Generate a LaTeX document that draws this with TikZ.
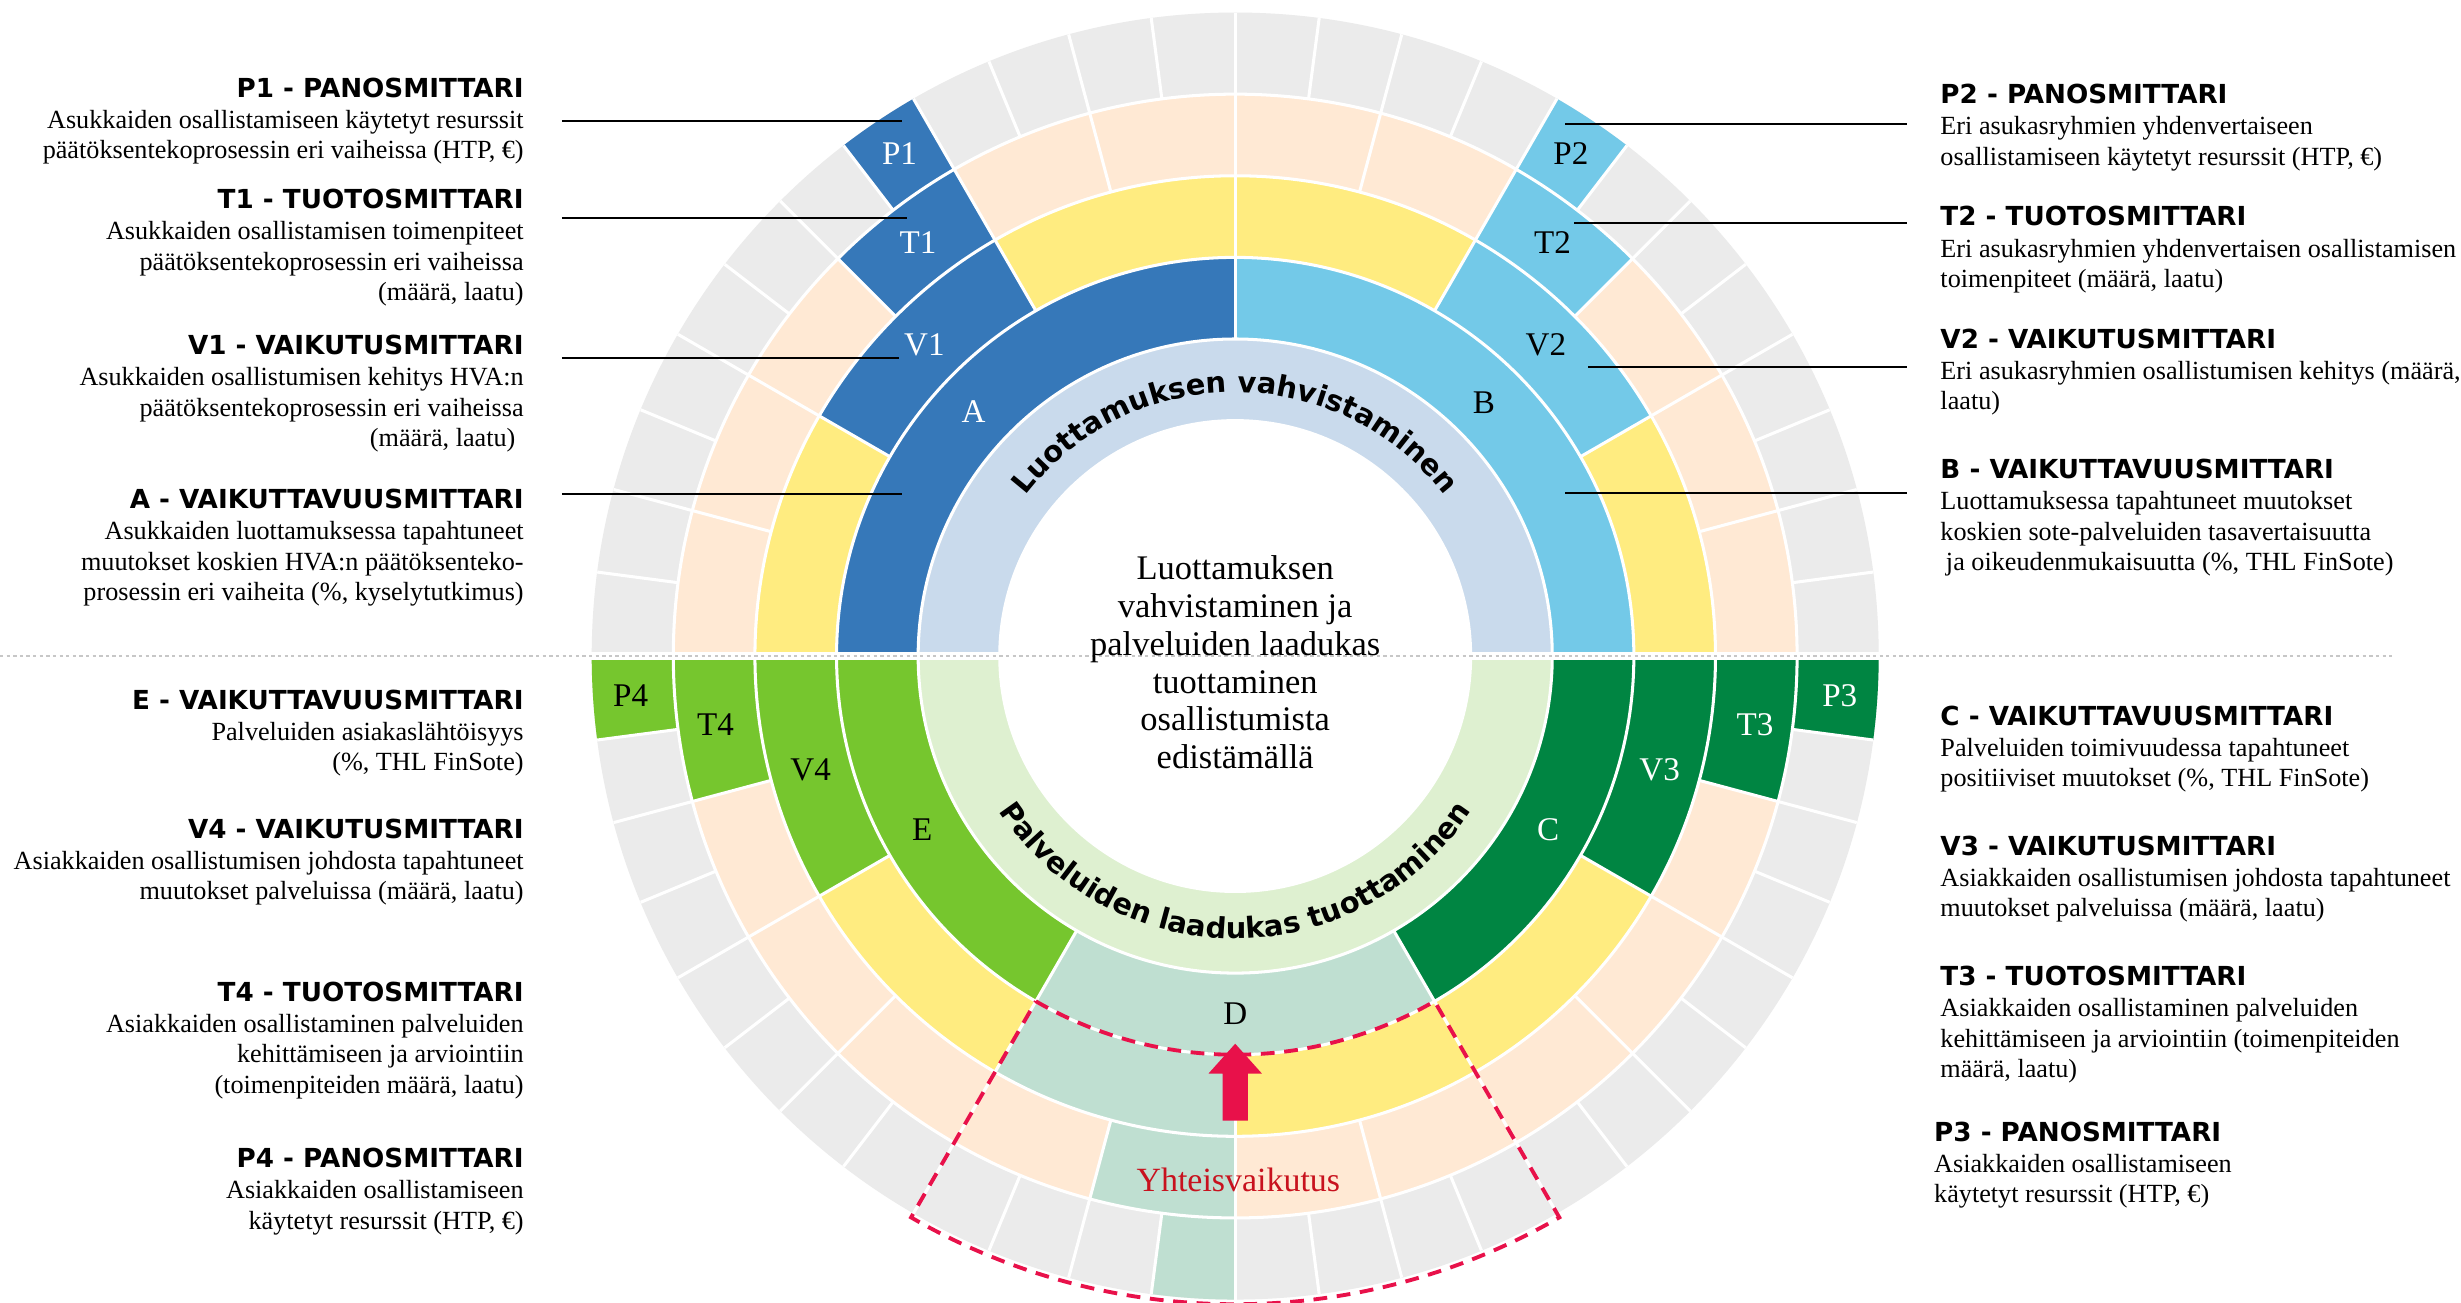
\documentclass[tikz,border=0pt]{standalone}
\usepackage{fontspec}
\setmainfont{Liberation Serif}
\newfontfamily\hdrsans{DejaVu Sans}
\usepackage{tikz}
\usetikzlibrary{calc}
\usetikzlibrary{decorations.text}

\definecolor{blueA}{RGB}{54,120,185}
\definecolor{blueB}{RGB}{115,201,232}
\definecolor{ringB}{RGB}{201,218,236}
\definecolor{ringG}{RGB}{222,240,208}
\definecolor{greenE}{RGB}{118,198,46}
\definecolor{greenC}{RGB}{0,133,66}
\definecolor{tealD}{RGB}{191,223,209}
\definecolor{yellowC}{RGB}{255,236,128}
\definecolor{peachC}{RGB}{255,233,212}
\definecolor{grayC}{RGB}{235,235,235}
\definecolor{redD}{RGB}{232,17,74}
\definecolor{redT}{RGB}{200,18,30}

\newcommand{\hdrfont}{\hdrsans\bfseries\fontsize{9.5}{11}\selectfont}
\newcommand{\bodyfont}{\fontsize{9.5}{11}\selectfont}
\newcommand{\cellfont}{\fontsize{12}{14}\selectfont}
\newcommand{\midfont}{\fontsize{12.5}{13.7}\selectfont}
\newcommand{\ringfont}{\hdrsans\bfseries\fontsize{10.5}{12}\selectfont}

\begin{document}
\begin{tikzpicture}[
		x=0.02cm, y=0.02cm,
		sep/.style={white, line width=1.1pt},
		leader/.style={black, line width=0.8pt},
		hdr/.style={font=\hdrfont, inner sep=0pt},
		lbody/.style={font=\bodyfont, inner sep=0pt, align=right, anchor=north east},
		rbody/.style={font=\bodyfont, inner sep=0pt, align=left, anchor=north west},
		lab/.style={font=\cellfont, inner sep=0pt},
		frame/.style={draw=redD, line width=1.4pt, dash pattern=on 5pt off 3.5pt},
		midline/.style={draw=black!22, line width=0.6pt, dash pattern=on 1.2pt off 1.2pt},
	]
	\fill[white] (-787,-412) rectangle (781,418);
	\useasboundingbox (-787,-412) rectangle (781,418);
	% rings
	\fill[grayC] (0,0) circle[radius=410];
	\fill[peachC] (0,0) circle[radius=358];
	\fill[yellowC] (0,0) circle[radius=306];
	\foreach \a/\b/\ri/\ro/\c in {
			90/180/202/254/blueA, 0/90/202/254/blueB, 180/240/202/254/greenE,
			240/300/202/254/tealD, 300/360/202/254/greenC,
			120/150/254/306/blueA, 30/60/254/306/blueB, 180/210/254/306/greenE,
			240/270/254/306/tealD, 330/360/254/306/greenC,
			120/135/306/358/blueA, 45/60/306/358/blueB, 180/195/306/358/greenE,
			255/270/306/358/tealD, 345/360/306/358/greenC,
			120/127.5/358/410/blueA, 52.5/60/358/410/blueB, 180/187.5/358/410/greenE,
			262.5/270/358/410/tealD, 352.5/360/358/410/greenC}
		\fill[\c] (\a:\ri) arc[start angle=\a, end angle=\b, radius=\ri]
			-- (\b:\ro) arc[start angle=\b, end angle=\a, radius=\ro] -- cycle;
	\fill[ringB] (0:150) arc[start angle=0, end angle=180, radius=150]
		-- (180:202) arc[start angle=180, end angle=0, radius=202] -- cycle;
	\fill[ringG] (180:150) arc[start angle=180, end angle=360, radius=150]
		-- (360:202) arc[start angle=360, end angle=180, radius=202] -- cycle;
	\fill[white] (0,0) circle[radius=150];
	% cell borders
	\foreach \r in {150,202,254,306,358}
		\draw[sep] (0,0) circle[radius=\r];
	\foreach \t in {0,90,180,240,300}
		\draw[sep] (\t:202) -- (\t:254);
	\foreach \t in {0,30,...,330}
		\draw[sep] (\t:254) -- (\t:306);
	\foreach \t in {0,15,...,345}
		\draw[sep] (\t:306) -- (\t:358);
	\foreach \t in {0,7.5,...,352.5}
		\draw[sep] (\t:358) -- (\t:410);
	\fill[white] (-412,-2.5) rectangle (412,2.5);
	\coordinate (midL) at (-787,0);
	\coordinate (midR) at (738,0);
	\draw[midline] (midL) -- (midR);
	% ring texts
	\path[decorate, decoration={text along path, text align=center,
			text={|\ringfont|Luottamuksen vahvistaminen}}]
		(165:168) arc[start angle=165, end angle=15, radius=168];
	\path[decorate, decoration={text along path, text align=center,
			text={|\ringfont|Palveluiden laadukas tuottaminen}}]
		(195:180) arc[start angle=195, end angle=345, radius=180];
	\node[font=\midfont, align=center, inner sep=0pt] (core) at (0,-4)
		{Luottamuksen\\vahvistaminen ja\\palveluiden laadukas\\tuottaminen\\osallistumista\\edistämällä};
	% cell labels
	\node[lab, white] (P1) at (123.75:385) {P1};
	\node[lab, white] (T1) at (127.5:332) {T1};
	\node[lab, white] (V1) at (135:280) {V1};
	\node[lab, white] (A) at (137:228) {A};
	\node[lab] (P2) at (56.25:385) {P2};
	\node[lab] (T2) at (52.5:332) {T2};
	\node[lab] (V2) at (45:280) {V2};
	\node[lab] (B) at (45.5:226) {B};
	\node[lab] (P4) at (183.75:386) {P4};
	\node[lab] (T4) at (187.5:334) {T4};
	\node[lab] (V4) at (195:280) {V4};
	\node[lab] (E) at (209:228) {E};
	\node[lab, white] (P3) at (356.25:386) {P3};
	\node[lab, white] (T3) at (352.5:334) {T3};
	\node[lab, white] (V3) at (345:280) {V3};
	\node[lab, white] (C) at (331:228) {C};
	\node[lab] (D) at (270:228) {D};
	% joint effect
	\draw[frame] (240:254) arc[start angle=240, end angle=300, radius=254]
		-- (300:413) arc[start angle=300, end angle=240, radius=413] -- cycle;
	\fill[redD] (0,-247) -- (17,-266) -- (8,-266) -- (8,-296) -- (-8,-296)
		-- (-8,-266) -- (-17,-266) -- cycle;
	\node[font=\fontsize{12.3}{14}\selectfont, text=redT, inner sep=0pt] (joint) at (2,-334) {Yhteisvaikutus};
	% left texts
	\node[hdr, anchor=base east] (p1hd) at (-453,356) {P1 - PANOSMITTARI};
	\node[lbody] (p1tx) at ($(p1hd.base east)+(0,-6)$)
		{\strut Asukkaiden osallistamiseen käytetyt resurssit\\päätöksentekoprosessin eri vaiheissa (HTP, €)};
	\node[hdr, anchor=base east] (t1hd) at (-453,285) {T1 - TUOTOSMITTARI};
	\node[lbody] (t1tx) at ($(t1hd.base east)+(0,-6)$)
		{\strut Asukkaiden osallistamisen toimenpiteet\\päätöksentekoprosessin eri vaiheissa\\(määrä, laatu)};
	\node[hdr, anchor=base east] (v1hd) at (-453,192) {V1 - VAIKUTUSMITTARI};
	\node[lbody] (v1tx) at ($(v1hd.base east)+(0,-6)$)
		{\strut Asukkaiden osallistumisen kehitys HVA:n\\päätöksentekoprosessin eri vaiheissa\\(määrä, laatu)\hspace*{3pt}};
	\node[hdr, anchor=base east] (ahd) at (-453,94) {A - VAIKUTTAVUUSMITTARI};
	\node[lbody] (atx) at ($(ahd.base east)+(0,-6)$)
		{\strut Asukkaiden luottamuksessa tapahtuneet\\muutokset koskien HVA:n päätöksenteko-\\prosessin eri vaiheita (\%, kyselytutkimus)};
	\node[hdr, anchor=base east] (ehd) at (-453,-34) {E - VAIKUTTAVUUSMITTARI};
	\node[lbody] (etx) at ($(ehd.base east)+(0,-6)$)
		{\strut Palveluiden asiakaslähtöisyys\\(\%, THL FinSote)};
	\node[hdr, anchor=base east] (v4hd) at (-453,-116) {V4 - VAIKUTUSMITTARI};
	\node[lbody] (v4tx) at ($(v4hd.base east)+(0,-6)$)
		{\strut Asiakkaiden osallistumisen johdosta tapahtuneet\\muutokset palveluissa (määrä, laatu)};
	\node[hdr, anchor=base east] (t4hd) at (-453,-220) {T4 - TUOTOSMITTARI};
	\node[lbody] (t4tx) at ($(t4hd.base east)+(0,-6)$)
		{\strut Asiakkaiden osallistaminen palveluiden\\kehittämiseen ja arviointiin\\(toimenpiteiden määrä, laatu)};
	\node[hdr, anchor=base east] (p4hd) at (-453,-326) {P4 - PANOSMITTARI};
	\node[lbody] (p4tx) at ($(p4hd.base east)+(0,-6)$)
		{\strut Asiakkaiden osallistamiseen\\käytetyt resurssit (HTP, €)};
	% right texts
	\node[hdr, anchor=base west] (p2hd) at (449,352) {P2 - PANOSMITTARI};
	\node[rbody] (p2tx) at ($(p2hd.base west)+(0,-6)$)
		{\strut Eri asukasryhmien yhdenvertaiseen\\osallistamiseen käytetyt resurssit (HTP, €)};
	\node[hdr, anchor=base west] (t2hd) at (449,274) {T2 - TUOTOSMITTARI};
	\node[rbody] (t2tx) at ($(t2hd.base west)+(0,-6)$)
		{\strut Eri asukasryhmien yhdenvertaisen osallistamisen\\toimenpiteet (määrä, laatu)};
	\node[hdr, anchor=base west] (v2hd) at (449,196) {V2 - VAIKUTUSMITTARI};
	\node[rbody] (v2tx) at ($(v2hd.base west)+(0,-6)$)
		{\strut Eri asukasryhmien osallistumisen kehitys (määrä,\\laatu)};
	\node[hdr, anchor=base west] (bhd) at (449,113) {B - VAIKUTTAVUUSMITTARI};
	\node[rbody] (btx) at ($(bhd.base west)+(0,-6)$)
		{\strut Luottamuksessa tapahtuneet muutokset\\koskien sote-palveluiden tasavertaisuutta\\\hspace*{2pt}ja oikeudenmukaisuutta (\%, THL FinSote)};
	\node[hdr, anchor=base west] (chd) at (449,-44) {C - VAIKUTTAVUUSMITTARI};
	\node[rbody] (ctx) at ($(chd.base west)+(0,-6)$)
		{\strut Palveluiden toimivuudessa tapahtuneet\\positiiviset muutokset (\%, THL FinSote)};
	\node[hdr, anchor=base west] (v3hd) at (449,-127) {V3 - VAIKUTUSMITTARI};
	\node[rbody] (v3tx) at ($(v3hd.base west)+(0,-6)$)
		{\strut Asiakkaiden osallistumisen johdosta tapahtuneet\\muutokset palveluissa (määrä, laatu)};
	\node[hdr, anchor=base west] (t3hd) at (449,-210) {T3 - TUOTOSMITTARI};
	\node[rbody] (t3tx) at ($(t3hd.base west)+(0,-6)$)
		{\strut Asiakkaiden osallistaminen palveluiden\\kehittämiseen ja arviointiin (toimenpiteiden\\määrä, laatu)};
	\node[hdr, anchor=base west] (p3hd) at (445,-309) {P3 - PANOSMITTARI};
	\node[rbody] (p3tx) at ($(p3hd.base west)+(0,-6)$)
		{\strut Asiakkaiden osallistamiseen\\käytetyt resurssit (HTP, €)};
	% leaders
	\coordinate (p1ln) at (-429,341);
	\coordinate (p1pt) at (-212,341);
	\coordinate (t1ln) at (-429,279);
	\coordinate (t1pt) at (-209,279);
	\coordinate (v1ln) at (-429,190);
	\coordinate (v1pt) at (-214,190);
	\coordinate (aln) at (-429,103);
	\coordinate (apt) at (-212,103);
	\coordinate (p2ln) at (428,339);
	\coordinate (p2pt) at (210,339);
	\coordinate (t2ln) at (428,276);
	\coordinate (t2pt) at (216,276);
	\coordinate (v2ln) at (428,184);
	\coordinate (v2pt) at (225,184);
	\coordinate (bln) at (428,104);
	\coordinate (bpt) at (210,104);
	\draw[leader] (p1ln) -- (p1pt);
	\draw[leader] (t1ln) -- (t1pt);
	\draw[leader] (v1ln) -- (v1pt);
	\draw[leader] (aln) -- (apt);
	\draw[leader] (p2ln) -- (p2pt);
	\draw[leader] (t2ln) -- (t2pt);
	\draw[leader] (v2ln) -- (v2pt);
	\draw[leader] (bln) -- (bpt);
\end{tikzpicture}
\end{document}
